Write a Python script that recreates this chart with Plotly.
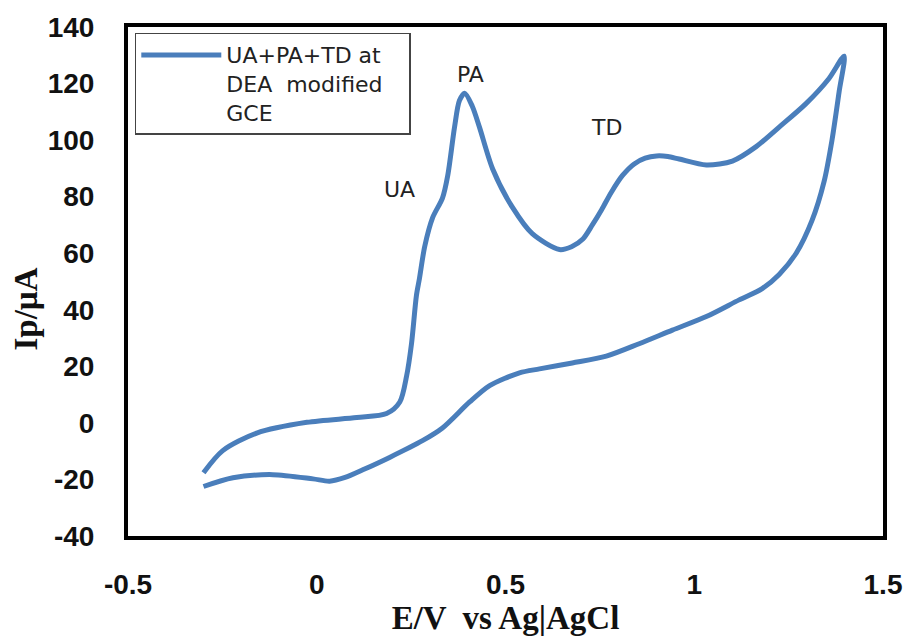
import plotly.graph_objects as go

# Anodic (forward) sweep: potential in V, current in µA
e_forward = [-0.30, -0.249, -0.159, -0.026, 0.106, 0.185, 0.220, 0.238, 0.251, 0.264,
             0.272, 0.286, 0.307, 0.333, 0.347, 0.365, 0.378, 0.392, 0.412, 0.431,
             0.466, 0.519, 0.571, 0.643, 0.675, 0.705, 0.730, 0.755, 0.780, 0.810,
             0.840, 0.870, 0.900, 0.930, 0.960, 1.032, 1.101, 1.164, 1.225, 1.296,
             1.357, 1.397]
i_forward = [-17.6, -9.8, -3.6, 0.2, 1.9, 3.3, 7.4, 16.6, 28.0, 45.0,
             51.0, 62.4, 72.6, 79.5, 87.5, 104.6, 114.0, 116.6, 112.0, 104.6,
             89.8, 76.1, 66.9, 61.3, 62.3, 65.0, 70.0, 75.5, 81.5, 87.5,
             91.5, 93.6, 94.4, 94.2, 93.3, 91.2, 92.6, 97.7, 104.6, 112.9,
             121.8, 129.7]

# Cathodic (reverse) sweep
e_reverse = [1.384, 1.365, 1.344, 1.312, 1.270, 1.225, 1.180, 1.119, 1.032, 0.942,
             0.854, 0.767, 0.677, 0.590, 0.537, 0.458, 0.405, 0.333, 0.280, 0.193,
             0.122, 0.075, 0.034, -0.010, -0.116, -0.222, -0.30]
i_reverse = [117.3, 100.1, 85.4, 71.6, 60.0, 52.5, 47.5, 43.5, 37.6, 32.8,
             28.0, 23.6, 21.2, 19.1, 17.7, 13.2, 7.4, -1.8, -6.3, -12.2,
             -16.6, -19.3, -20.6, -19.8, -18.3, -19.4, -22.5]

# Peak labels
peak_names = ["UA", "PA", "TD"]
peak_e = [0.22, 0.407, 0.767]
peak_i = [82.6, 123.2, 104.6]

x_ticks = [-0.5, 0, 0.5, 1, 1.5]
y_ticks = [-40, -20, 0, 20, 40, 60, 80, 100, 120, 140]

fig = go.Figure()
fig.add_trace(go.Scatter(
    x=e_forward + e_reverse,
    y=i_forward + i_reverse,
    mode="lines",
    line=dict(color="#4A7EBB", width=5, shape="spline", smoothing=0.8),
    name="UA+PA+TD at<br>DEA  modified\u00a0\u00a0\u00a0<br>GCE",
    showlegend=True,
))

for name, ex, iy in zip(peak_names, peak_e, peak_i):
    fig.add_annotation(x=ex, y=iy, text=name, showarrow=False,
                       font=dict(family="DejaVu Sans", size=22, color="#222222"))

# Y-axis title, set slightly below the middle of the axis
fig.add_annotation(xref="paper", yref="paper", x=-0.135, y=0.445,
                   xanchor="center", yanchor="middle",
                   text="Ip/µA", textangle=-90, showarrow=False,
                   font=dict(family="Liberation Serif", size=33, color="#111111", weight="bold"))

axis_common = dict(
    showline=True, linewidth=4, linecolor="black", mirror=True,
    showgrid=False, zeroline=False, ticks="",
    tickfont=dict(family="Liberation Sans", size=28, color="#111111", weight="bold"),
)

fig.update_xaxes(
    range=[-0.5, 1.5], tickvals=x_ticks, ticktext=[str(v) for v in x_ticks],
    ticklabelstandoff=20,
    title=dict(text="E/V  vs Ag|AgCl", standoff=6,
               font=dict(family="Liberation Serif", size=33, color="#111111", weight="bold")),
    **axis_common,
)
fig.update_yaxes(
    range=[-40, 140], tickvals=y_ticks, ticktext=[str(v) for v in y_ticks],
    ticklabelstandoff=24,
    **axis_common,
)

fig.update_layout(
    width=914, height=641,
    margin=dict(l=128, r=30, t=24, b=93),
    plot_bgcolor="white", paper_bgcolor="white",
    legend=dict(
        x=0.009, y=0.989, xanchor="left", yanchor="top", valign="top",
        bgcolor="white", bordercolor="#444444", borderwidth=1.5,
        font=dict(family="DejaVu Sans", size=22, color="#222222"),
        itemwidth=80,
    ),
)

fig.write_html("out.html")
